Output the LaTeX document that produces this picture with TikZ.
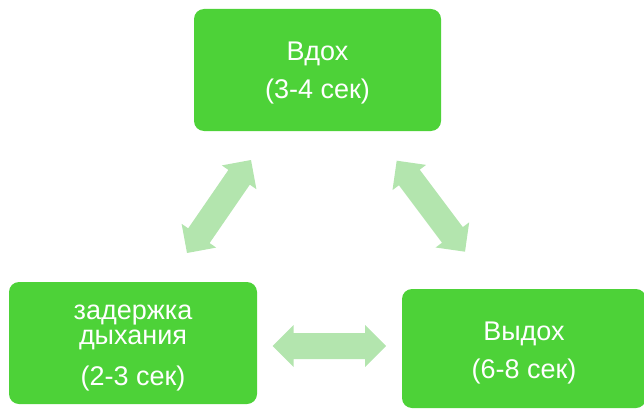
\documentclass[tikz,border=0pt]{standalone}
\usepackage{fontspec}
\setmainfont{Liberation Sans}
\usetikzlibrary{calc}
\definecolor{boxgreen}{RGB}{77,210,56}
\definecolor{arrowgreen}{RGB}{179,229,174}
\tikzset{
  stagebox/.style={rectangle, rounded corners=10pt, fill=boxgreen, inner sep=0pt},
  stagetext/.style={text=white, align=center, inner sep=0pt, font=\fontsize{27}{38}\selectfont},
}
\newcommand\dblarr[2]{%
  \coordinate (h1) at ($(#1)!21pt!(#2)$);
  \coordinate (h2) at ($(#2)!21pt!(#1)$);
  \fill[arrowgreen] (#1) -- ($(h1)!21pt!90:(#2)$) -- ($(h1)!13pt!90:(#2)$)
    -- ($(h2)!13pt!-90:(#1)$) -- ($(h2)!21pt!-90:(#1)$) -- (#2)
    -- ($(h2)!21pt!90:(#1)$) -- ($(h2)!13pt!90:(#1)$)
    -- ($(h1)!13pt!-90:(#2)$) -- ($(h1)!21pt!-90:(#2)$) -- cycle;
}
\begin{document}
\begin{tikzpicture}[x=1pt,y=-1pt]
\useasboundingbox (0,0) rectangle (644,409);
\node[stagebox, minimum width=247pt, minimum height=122pt] (inhale) at (317.5,70) {};
\node[stagetext, yshift=-3pt] (inhaletext) at (inhale.center) {Вдох\\(3-4 сек)};
\node[stagebox, minimum width=248pt, minimum height=122pt] (hold) at (133,343) {};
\node[stagetext, yshift=-5.5pt] (holdtext) at (hold.center)
  {задержка\\[-13pt]дыхания\\[3pt](2-3 сек)};
\node[stagebox, minimum width=244pt, minimum height=119pt] (exhale) at (524,348.5) {};
\node[stagetext, yshift=-5pt] (exhaletext) at (exhale.center) {Выдох\\(6-8 сек)};
\coordinate (a1) at (187,253);
\coordinate (b1) at (251,160);
\coordinate (a2) at (396.7,160.7);
\coordinate (b2) at (465,251.7);
\coordinate (a3) at (272.7,346);
\coordinate (b3) at (386,346);
\dblarr{a1}{b1}
\dblarr{a2}{b2}
\dblarr{a3}{b3}
\end{tikzpicture}
\end{document}
